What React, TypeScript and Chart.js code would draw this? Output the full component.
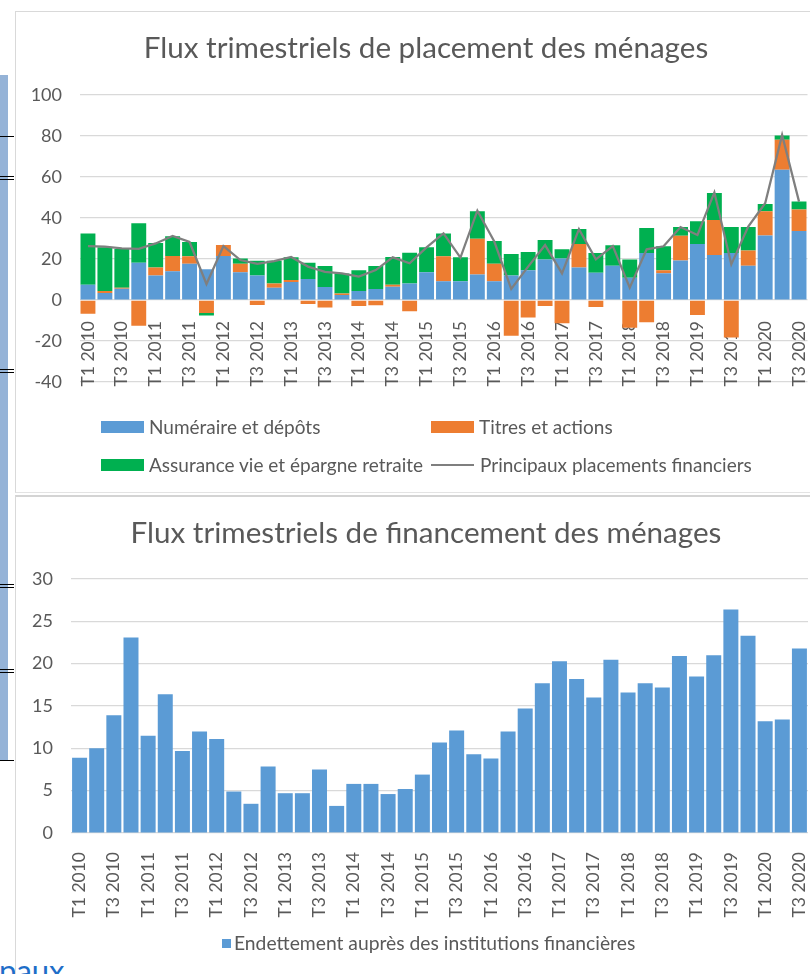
import React, { useEffect, useRef } from 'react';
import { Chart, registerables } from 'chart.js';

Chart.register(...registerables);

// ---------- DATA ----------
const quarters = [
  'T1 2010', 'T2 2010', 'T3 2010', 'T4 2010',
  'T1 2011', 'T2 2011', 'T3 2011', 'T4 2011',
  'T1 2012', 'T2 2012', 'T3 2012', 'T4 2012',
  'T1 2013', 'T2 2013', 'T3 2013', 'T4 2013',
  'T1 2014', 'T2 2014', 'T3 2014', 'T4 2014',
  'T1 2015', 'T2 2015', 'T3 2015', 'T4 2015',
  'T1 2016', 'T2 2016', 'T3 2016', 'T4 2016',
  'T1 2017', 'T2 2017', 'T3 2017', 'T4 2017',
  'T1 2018', 'T2 2018', 'T3 2018', 'T4 2018',
  'T1 2019', 'T2 2019', 'T3 2019', 'T4 2019',
  'T1 2020', 'T2 2020', 'T3 2020',
];

// Numéraire et dépôts
const cashDeposits = [
  7.5, 3.4, 5.5, 18.2, 11.9, 14.0, 17.7, 15.0, 21.5, 13.5,
  11.9, 6.0, 8.8, 10.2, 6.3, 2.4, 4.4, 5.4, 6.5, 8.1,
  13.5, 9.1, 9.1, 12.4, 9.1, 11.9, 14.5, 19.8, 20.3, 15.8,
  13.3, 16.7, 10.9, 22.9, 13.0, 19.3, 27.3, 22.0, 22.9, 16.7,
  31.5, 63.6, 33.7,
];

// Titres et actions
const securities = [
  -6.7, 1.0, 0.5, -12.5, 4.0, 7.5, 3.6, -6.3, 5.3, 4.2,
  -2.4, 2.1, 1.0, -2.0, -3.6, 0.8, -2.9, -2.6, 1.0, -5.5,
  0, 12.2, 0, 17.5, 8.6, -17.4, -8.5, -2.9, -11.4, 11.5,
  -3.4, 0, -13.5, -10.9, 1.5, 12.1, -7.3, 17.0, -18.3, 7.4,
  11.8, 14.6, 10.5,
];

// Assurance vie et épargne retraite
const lifeInsurance = [
  25.0, 21.3, 18.9, 19.2, 11.9, 9.6, 7.0, -1.3, 0, 2.6,
  7.3, 11.1, 11.0, 8.0, 10.3, 9.7, 10.1, 11.2, 13.5, 15.0,
  12.2, 11.2, 11.7, 13.4, 11.1, 10.5, 8.9, 9.5, 4.4, 7.3,
  9.6, 10.0, 8.9, 12.2, 11.7, 4.2, 11.1, 13.2, 12.7, 11.5,
  3.5, 2.1, 3.8,
];

// Principaux placements financiers
const mainPlacements = [
  26.3, 26.0, 25.2, 25.0, 27.6, 31.2, 28.3, 7.8, 26.3, 19.5,
  17.6, 19.0, 21.0, 16.3, 13.7, 13.0, 11.4, 14.6, 20.8, 17.9,
  25.7, 32.5, 20.7, 43.6, 28.5, 5.4, 16.3, 26.8, 13.0, 34.6,
  19.8, 26.3, 6.0, 24.7, 26.2, 35.6, 31.7, 52.5, 17.4, 35.8,
  47.2, 80.5, 48.0,
];

// Endettement auprès des institutions financières
const borrowing = [
  8.9, 10.0, 13.9, 23.1, 11.5, 16.4, 9.7, 12.0, 11.1, 4.9,
  3.45, 7.85, 4.7, 4.7, 7.5, 3.2, 5.8, 5.8, 4.6, 5.2,
  6.9, 10.7, 12.1, 9.3, 8.8, 12.0, 14.7, 17.7, 20.3, 18.2,
  16.0, 20.45, 16.6, 17.7, 17.2, 20.9, 18.5, 21.0, 26.4, 23.3,
  13.2, 13.4, 21.8,
];

const titleTop = 'Flux trimestriels de placement des ménages';
const titleBottom = 'Flux trimestriels de financement des ménages';
const seriesNames = [
  'Numéraire et dépôts',
  'Titres et actions',
  'Assurance vie et épargne retraite',
  'Principaux placements financiers',
];
const borrowingName = 'Endettement auprès des institutions financières';

// ---------- STYLE ----------
const FONT = 'Lato';
const GREY = '#595959';
const GRID = '#d9d9d9';
const BLUE = '#5b9bd5';
const ORANGE = '#ed7d31';
const GREEN = '#00b050';
const LINE = '#7f7f7f';
const TICK_SIZE = 18;
const XTICK_SIZE = 17.5;
const TITLE_SIZE = 29.6;
const LEGEND_SIZE = 19;

const everyOther = (_v: any, i: number) => (i % 2 === 0 ? quarters[i] : '');

// invisible right-hand box so that the title is centred on the whole frame
const spacerAxis = (w: number) => ({
  type: 'linear',
  position: 'right',
  display: true,
  grid: { display: false },
  border: { display: false },
  ticks: { display: false },
  afterFit: (s: any) => { s.width = w; },
});

function PlacementChart() {
  const ref = useRef<HTMLCanvasElement>(null);
  useEffect(() => {
    if (!ref.current) return;
    const chart = new Chart(ref.current, {
      type: 'bar',
      data: {
        labels: quarters,
        datasets: [
          { label: seriesNames[0], data: cashDeposits, backgroundColor: BLUE, stack: 's', order: 1 },
          { label: seriesNames[1], data: securities, backgroundColor: ORANGE, stack: 's', order: 1 },
          { label: seriesNames[2], data: lifeInsurance, backgroundColor: GREEN, stack: 's', order: 1 },
          {
            type: 'line',
            label: seriesNames[3],
            data: mainPlacements,
            borderColor: LINE,
            backgroundColor: LINE,
            borderWidth: 2.25,
            pointRadius: 0,
            tension: 0,
            fill: false,
            stack: 'line',
            order: 0,
          } as any,
        ],
      },
      options: {
        responsive: false,
        animation: false,
        layout: { padding: { left: 0, right: 0, top: 0, bottom: 112 } },
        datasets: { bar: { categoryPercentage: 1, barPercentage: 0.88 } } as any,
        plugins: {
          legend: { display: false },
          tooltip: { enabled: false },
          title: {
            display: true,
            text: titleTop,
            color: GREY,
            font: { family: FONT, size: TITLE_SIZE, weight: 'normal', lineHeight: 1.2 },
            padding: { top: 18.2, bottom: 29.3 },
          },
        },
        scales: {
          x: {
            stacked: true,
            position: { y: 0 } as any,
            z: 1,
            grid: { display: false },
            border: { display: false },
            ticks: {
              autoSkip: false,
              minRotation: 90,
              maxRotation: 90,
              padding: 13,
              color: GREY,
              font: { family: FONT, size: XTICK_SIZE },
              callback: everyOther,
            },
          },
          y: {
            stacked: true,
            min: -40,
            max: 100,
            grid: { color: GRID, lineWidth: 1.25, drawTicks: false },
            border: { display: false },
            ticks: { stepSize: 20, padding: 17.5, color: GREY, font: { family: FONT, size: TICK_SIZE } },
            afterFit: (s: any) => { s.width = 63.5; },
          },
          yr: spacerAxis(28.5) as any,
        },
      },
    });
    return () => chart.destroy();
  }, []);
  return <canvas ref={ref} width={820} height={482} style={{ position: 'absolute', left: 16, top: 12 }} />;
}

function BorrowingChart() {
  const ref = useRef<HTMLCanvasElement>(null);
  useEffect(() => {
    if (!ref.current) return;
    const chart = new Chart(ref.current, {
      type: 'bar',
      data: {
        labels: quarters,
        datasets: [
          { label: borrowingName, data: borrowing, backgroundColor: BLUE, categoryPercentage: 1, barPercentage: 0.875 },
        ],
      },
      options: {
        responsive: false,
        animation: false,
        layout: { padding: { left: 0, right: 0, top: 0, bottom: 41 } },
        plugins: {
          legend: { display: false },
          tooltip: { enabled: false },
          title: {
            display: true,
            text: titleBottom,
            color: GREY,
            font: { family: FONT, size: TITLE_SIZE, weight: 'normal', lineHeight: 1.2 },
            padding: { top: 17.2, bottom: 28.3 },
          },
        },
        scales: {
          x: {
            grid: { display: false },
            border: { display: false },
            ticks: {
              autoSkip: false,
              minRotation: 90,
              maxRotation: 90,
              padding: 11,
              color: GREY,
              font: { family: FONT, size: XTICK_SIZE },
              callback: everyOther,
            },
            afterFit: (s: any) => { s.height = 100; },
          },
          y: {
            min: 0,
            max: 30,
            grid: { color: GRID, lineWidth: 1.25, drawTicks: false },
            border: { display: false },
            ticks: { stepSize: 5, padding: 18, color: GREY, font: { family: FONT, size: TICK_SIZE } },
            afterFit: (s: any) => { s.width = 55; },
          },
          yr: spacerAxis(28) as any,
        },
      },
    });
    return () => chart.destroy();
  }, []);
  return <canvas ref={ref} width={820} height={476} style={{ position: 'absolute', left: 16, top: 498 }} />;
}

const legendText: React.CSSProperties = {
  position: 'absolute',
  fontFamily: FONT,
  fontSize: LEGEND_SIZE,
  lineHeight: '22px',
  color: GREY,
  whiteSpace: 'nowrap',
};

function Swatch({ x, y, w, h, color }: { x: number; y: number; w: number; h: number; color: string }) {
  return <div style={{ position: 'absolute', left: x, top: y, width: w, height: h, background: color }} />;
}

function Label({ x, cy, text, size }: { x: number; cy: number; text: string; size?: number }) {
  return <div style={{ ...legendText, left: x, top: cy - 11, fontSize: size ?? LEGEND_SIZE }}>{text}</div>;
}

export default function App() {
  const ticks = [136, 176, 179, 369, 372, 584, 587, 669, 672, 760];
  return (
    <div style={{ position: 'fixed', left: 0, top: 0, width: 810, height: 974, overflow: 'hidden', background: '#fff' }}>
      {/* page artefacts at the left edge */}
      <div style={{ position: 'absolute', left: 0, top: 75, width: 8, height: 685, background: '#95b3d7' }} />
      {ticks.map((t, i) => (
        <div key={i} style={{ position: 'absolute', left: 0, top: t, width: 14, height: 1, background: '#000' }} />
      ))}
      <div style={{ position: 'absolute', left: -1, top: 955, fontFamily: FONT, fontSize: 31, lineHeight: '30px', color: '#1e6ec8' }}>paux</div>

      {/* panel frames */}
      <div style={{ position: 'absolute', left: 15, top: 11, width: 820, height: 482, borderLeft: '1px solid #d9d9d9', borderTop: '1px solid #d9d9d9', borderBottom: '1px solid #e3e3e3', boxSizing: 'border-box' }} />
      <div style={{ position: 'absolute', left: 15, top: 495, width: 820, height: 490, borderLeft: '1px solid #d9d9d9', borderTop: '2px solid #d4d4d4', boxSizing: 'border-box' }} />

      <PlacementChart />
      <BorrowingChart />

      {/* legend of the placement chart */}
      <Swatch x={101} y={421} w={43} h={12} color={BLUE} />
      <Label x={149} cy={427} text={seriesNames[0]} />
      <Swatch x={431} y={421} w={43} h={12} color={ORANGE} />
      <Label x={479} cy={427} text={seriesNames[1]} />
      <Swatch x={101} y={459} w={43} h={12} color={GREEN} />
      <Label x={149} cy={465} text={seriesNames[2]} />
      <Swatch x={431} y={464} w={43} h={2} color={LINE} />
      <Label x={480} cy={465} text={seriesNames[3]} />

      {/* legend of the borrowing chart */}
      <Swatch x={222} y={939} w={9} h={9} color={BLUE} />
      <Label x={234} cy={943} text={borrowingName} size={19.3} />
    </div>
  );
}
